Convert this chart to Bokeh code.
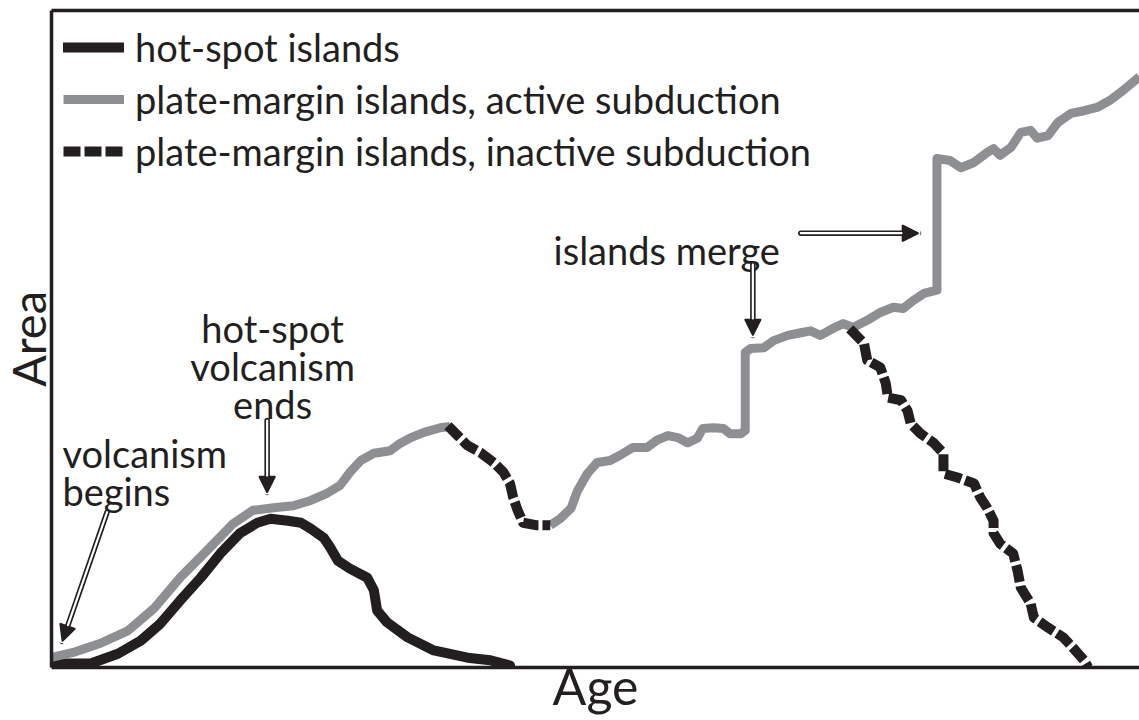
import math
from bokeh.plotting import figure
from bokeh.models import (Range1d, LinearAxis, FixedTicker, Legend, LegendItem,
                          Arrow, NormalHead)
from bokeh.core.properties import value
from bokeh.embed import file_html
from bokeh.resources import INLINE

NaN = float("nan")

# ---------------- data (Age, Area in arbitrary 0-100 units) ----------------
hot_age = [0, 3.7, 6.2, 8.3, 10.1, 11.9, 13.8, 15.6, 17.4, 19.0, 20.2, 21.8, 23.0,
           23.9, 25.1, 25.7, 26.4, 27.5, 29.1, 29.7, 30.0, 30.9, 32.8, 35.2, 38.3,
           40.4, 42.2]
hot_area = [0.3, 0.3, 1.8, 3.8, 6.4, 9.9, 13.4, 17.1, 20.2, 21.8, 22.4, 22.1, 21.8,
            20.9, 19.5, 18.0, 16.0, 14.8, 13.4, 11.5, 8.4, 6.6, 4.3, 2.3, 1.2,
            0.8, 0.0]

active_age = [0, 2.1, 4.6, 7.1, 9.5, 11.9, 14.4, 16.8, 18.6, 20.5, 22.3, 23.9, 25.4,
              26.6, 27.5, 28.5, 29.7, 31.2, 32.1, 33.1, 34.3, 35.8, 36.7,
              NaN,
              45.9, 46.8, 47.8, 48.4, 49.3, 50.2, 51.4, 52.3, 53.5, 54.8, 55.7, 56.7,
              57.6, 58.5, 59.4, 59.9, 60.9, 61.8, 62.4, 63.4, 63.8, 63.8, 64.3, 65.5,
              66.4, 67.7, 68.9, 69.8, 70.7, 71.9, 72.8, 73.7, 75.0, 76.2, 77.4, 78.3,
              79.2, 80.2, 81.4, 81.4, 82.6, 83.6, 84.8, 86.0, 86.6, 87.2, 88.2, 89.1,
              90.0, 90.6, 91.6, 92.5, 93.7, 94.9, 96.1, 97.3, 98.5, 100.0]
active_area = [1.2, 2.0, 3.4, 5.3, 8.7, 13.4, 17.6, 21.7, 23.7, 24.1, 24.4, 25.2, 26.3,
               27.5, 29.5, 31.3, 32.4, 32.8, 33.9, 34.8, 35.6, 36.3, 36.5,
               NaN,
               21.4, 22.4, 24.0, 26.7, 29.3, 31.0, 31.3, 32.1, 33.3, 33.3, 34.4, 35.1,
               34.8, 34.0, 34.7, 36.2, 36.3, 36.2, 35.4, 35.4, 35.9, 47.8, 48.4, 48.5,
               49.6, 50.4, 50.8, 51.1, 50.4, 51.5, 52.2, 51.6, 52.7, 53.9, 54.7, 54.5,
               55.7, 56.8, 57.3, 77.4, 77.1, 76.0, 76.8, 78.3, 78.9, 77.9, 79.1, 81.4,
               81.7, 80.5, 80.9, 82.9, 84.3, 84.7, 85.2, 86.3, 87.8, 89.9]

inactive_age = [36.5, 37.4, 38.3, 39.5, 40.7, 41.6, 42.2, 42.5, 42.9, 43.4, 44.7, 45.9,
                NaN,
                73.4, 74.7, 75.0, 76.2, 76.7, 76.9, 78.1, 78.7, 79.0, 79.9, 81.1, 82.0,
                82.0, 83.3, 84.8, 85.4, 86.0, 86.6, 86.6, 87.2, 88.4, 88.8, 89.1, 90.0,
                90.3, 91.6, 93.0, 93.9, 94.9, 95.3]
inactive_area = [36.6, 35.1, 33.6, 32.5, 31.0, 29.5, 27.8, 25.6, 23.7, 21.8, 21.4, 21.4,
                 NaN,
                 51.4, 49.2, 46.6, 45.5, 43.1, 40.9, 40.5, 38.9, 36.9, 35.4, 34.0, 32.4,
                 29.3, 28.7, 27.8, 25.6, 24.1, 22.1, 20.2, 18.6, 17.1, 14.5, 11.9, 9.5,
                 7.3, 5.8, 4.3, 2.7, 0.8, -0.3]

series_labels = ["hot-spot islands",
                 "plate-margin islands, active subduction",
                 "plate-margin islands, inactive subduction"]
x_label = "Age"
y_label = "Area"

# annotation texts
center_notes = ["hot-spot", "volcanism", "ends"]
left_notes = ["volcanism", "begins", "islands merge"]

# ---------------- styling ----------------
FONT = "Lato"
INK = "#231f20"
GREY = "#8d8f92"
SHIFT = 11  # canvas pushed left so the big "Area" title hugs the page edge

p = figure(width=1139 + SHIFT, height=720, output_backend="svg",
           toolbar_location=None,
           x_range=Range1d(0.1, 100), y_range=Range1d(-0.3, 100),
           x_axis_location=None, y_axis_location=None,
           min_border_left=51 + SHIFT, min_border_right=0, min_border_top=10,
           min_border_bottom=53)
p.margin = (0, 0, 0, -SHIFT)
p.outline_line_color = None
p.grid.visible = False
p.background_fill_color = "white"
p.border_fill_color = "white"


def frame_axis(label=None, size="0px", standoff=0):
    ax = LinearAxis(ticker=FixedTicker(ticks=[]), axis_label=label)
    ax.axis_line_color = INK
    ax.axis_line_width = 3.5
    ax.major_tick_out = 0
    ax.major_tick_in = 0
    ax.minor_tick_out = 0
    ax.minor_tick_in = 0
    ax.major_label_text_font_size = "0px"
    ax.major_label_standoff = 0
    ax.axis_label_text_font = FONT
    ax.axis_label_text_font_size = size
    ax.axis_label_text_font_style = "normal"
    ax.axis_label_text_color = INK
    ax.axis_label_standoff = standoff
    return ax


p.add_layout(frame_axis(y_label, "47px", -4), "left")
p.add_layout(frame_axis(x_label, "50px", -12), "below")
p.add_layout(frame_axis(), "above")

r_hot = p.line(hot_age, hot_area, line_color=INK, line_width=10,
               line_join="round", line_cap="round")
r_act = p.line(active_age, active_area, line_color=GREY, line_width=9,
               line_join="round", line_cap="butt")
r_inact = p.line(inactive_age, inactive_area, line_color=INK, line_width=10,
                 line_join="round", line_cap="butt", line_dash="17 4")

legend = Legend(items=[LegendItem(label=series_labels[0], renderers=[r_hot]),
                       LegendItem(label=series_labels[1], renderers=[r_act]),
                       LegendItem(label=series_labels[2], renderers=[r_inact])],
                location="top_left", border_line_color=None,
                background_fill_alpha=0, label_text_font=FONT,
                label_text_font_size="38px", label_text_color=INK,
                glyph_width=61, glyph_height=50, label_height=50,
                label_standoff=11, spacing=2, padding=3, margin=12)
p.add_layout(legend, "center")

# annotation texts
p.text(x=[20.4, 20.4, 20.4], y=[51.6, 45.8, 40.0], text=center_notes,
       text_font=value(FONT), text_font_size="38px", text_color=INK,
       text_align="center", text_baseline="alphabetic")
p.text(x=[1.1, 1.1, 46.2], y=[32.5, 26.7, 63.5], text=left_notes,
       text_font=value(FONT), text_font_size="38px", text_color=INK,
       text_align="left", text_baseline="alphabetic")

# hollow (outlined) arrows: tail -> tip
arrows = [((5.2, 23.4), (1.1, 3.7)),
          ((19.9, 37.4), (19.9, 26.4)),
          ((64.5, 61.2), (64.5, 50.4)),
          ((68.9, 66.0), (79.7, 66.0))]
PX_X, PX_Y = 10.89, 6.55  # screen pixels per data unit
HEAD = 16
for (x0, y0), (x1, y1) in arrows:
    dxp, dyp = (x1 - x0) * PX_X, (y1 - y0) * PX_Y
    L = math.hypot(dxp, dyp)
    ux, uy = dxp / L, dyp / L
    p.add_layout(Arrow(x_start=x0, y_start=y0, x_end=x1, y_end=y1,
                       line_color=INK, line_width=5.5, line_cap="round",
                       end=NormalHead(size=HEAD, fill_color=INK, line_color=INK,
                                      line_width=1.5)))
    stop = HEAD + 1
    p.add_layout(Arrow(x_start=x0, y_start=y0,
                       x_end=x1 - ux * stop / PX_X, y_end=y1 - uy * stop / PX_Y,
                       line_color="white", line_width=2.2, line_cap="round",
                       end=None))

open("out.html", "w").write(file_html(p, INLINE))
